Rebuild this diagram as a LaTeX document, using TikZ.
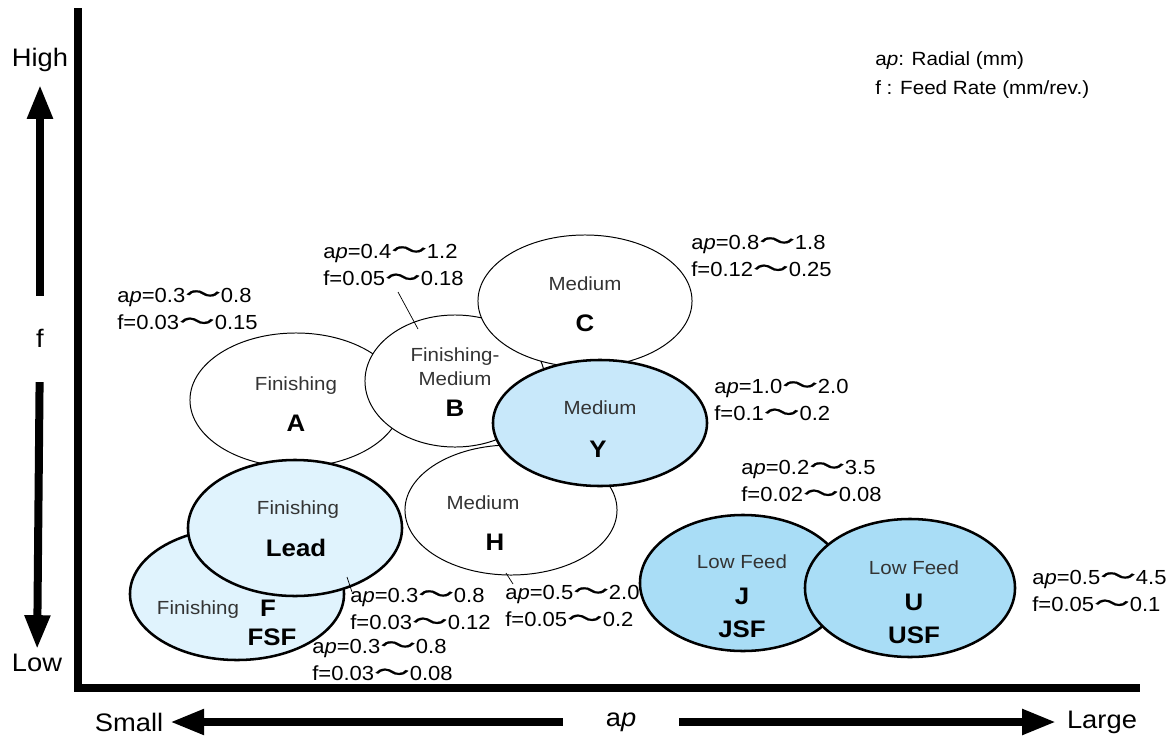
\documentclass[tikz,border=0pt]{standalone}
\usepackage{fontspec}
\setmainfont{Liberation Sans}[FakeStretch=1.08]
\newfontfamily\cjk{Noto Sans CJK JP}[FakeBold=0.6]
\usetikzlibrary{arrows.meta}
\usetikzlibrary{shapes.geometric}

\definecolor{leadblue}{HTML}{E0F3FD}
\definecolor{midblue}{HTML}{C8E8FA}
\definecolor{feedblue}{HTML}{A9DDF6}
\definecolor{kindgray}{HTML}{333333}

\newcommand{\radial}{a\textit{p}}
\newcommand{\wv}{{\cjk\scalebox{1.75}[1.15]{〜}}}

\begin{document}
\begin{tikzpicture}[x=0.025cm, y=-0.025cm, >={Triangle[length=0.85cm,width=0.6cm]},
    axisline/.style={line width=0.18cm},
    bigarrow/.style={line width=0.2cm,->},
    zone/.style={ellipse,draw,fill=white,line width=0.7pt,inner sep=0pt},
    keyzone/.style={zone,line width=1.8pt},
    kind/.style={text=kindgray,font=\fontsize{13.5}{16}\selectfont},
    tag/.style={font=\fontsize{17}{20}\selectfont\bfseries},
    cutbox/.style={align=left,anchor=west,inner sep=0pt,font=\fontsize{14.5}{19.5}\selectfont},
    word/.style={font=\fontsize{18}{20}\selectfont}]
\useasboundingbox (0,0) rectangle (1167,738);

% axes
\coordinate (top) at (78,8);
\coordinate (origin) at (78,688);
\coordinate (right) at (1140,688);
\draw[axisline] (top) -- (origin) -- (right);

% f axis
\node[word] (high) at (40,60) {High};
\node[word] (f) at (40,338) {f};
\node[word] (low) at (37,663) {Low};
\draw[bigarrow,shorten <=0.7cm,shorten >=0.2cm] (f) -- (high);
\draw[bigarrow,shorten <=0.75cm,shorten >=0cm] (f) -- (low);

% ap axis
\node[word] (small) at (129,722) {Small};
\node[word] (ap) at (621,722) {\radial};
\node[word] (large) at (1102,722) {Large};
\draw[bigarrow,shorten <=0.95cm,shorten >=0.05cm] (ap) -- (small);
\draw[bigarrow,shorten <=0.95cm,shorten >=0.15cm] (ap) -- (large);

% legend
\node[cutbox,font=\fontsize{13.6}{20.6}\selectfont] (legend) at (875,75)
  {\radial: Radial (mm)\\f : Feed Rate (mm/rev.)};

% grade zones, back to front
\node[zone,minimum width=5.3cm,minimum height=3.35cm] (A) at (296,400) {};
\node[zone,minimum width=5.3cm,minimum height=3.25cm] (H) at (511,510) {};
\node[zone,minimum width=4.5cm,minimum height=3.3cm] (B) at (455,381) {};
\node[zone,minimum width=5.35cm,minimum height=3.3cm] (C) at (585,301) {};
\node[keyzone,fill=midblue,minimum width=5.35cm,minimum height=3.15cm] (Y) at (600,423) {};
\node[keyzone,fill=leadblue,minimum width=5.35cm,minimum height=3.3cm] (F) at (237,594) {};
\node[keyzone,fill=leadblue,minimum width=5.35cm,minimum height=3.4cm] (Lead) at (295,528) {};
\node[keyzone,fill=feedblue,minimum width=5.15cm,minimum height=3.4cm] (J) at (743,583) {};
\node[keyzone,fill=feedblue,minimum width=5.25cm,minimum height=3.45cm] (U) at (910,588) {};

% zone texts
\node[kind] (A-kind) at (296,386) {Finishing};
\node[tag] (A-tag) at (296,423) {A};
\node[kind,align=center,font=\fontsize{13.5}{17}\selectfont] (B-kind) at (455,367) {Finishing-\\Medium};
\node[tag] (B-tag) at (455,408) {B};
\node[kind] (C-kind) at (585,284) {Medium};
\node[tag] (C-tag) at (585,323) {C};
\node[kind] (Y-kind) at (600,408) {Medium};
\node[tag] (Y-tag) at (598,449) {Y};
\node[kind] (H-kind) at (483,503) {Medium};
\node[tag] (H-tag) at (495,542) {H};
\node[kind] (Lead-kind) at (298,510) {Finishing};
\node[tag] (Lead-tag) at (296,548) {Lead};
\node[kind] (F-kind) at (198,610) {Finishing};
\node[tag] (F-tag) at (268,608) {F};
\node[tag] (FSF-tag) at (272,637) {FSF};
\node[kind] (J-kind) at (742,562) {Low Feed};
\node[tag,align=center,font=\fontsize{17}{24}\selectfont\bfseries] (J-tag) at (742,613) {J\\JSF};
\node[kind] (U-kind) at (914,568) {Low Feed};
\node[tag,align=center,font=\fontsize{17}{24}\selectfont\bfseries] (U-tag) at (914,619) {U\\USF};

% cutting ranges
\node[cutbox] (lbA) at (117,309) {\radial=0.3\wv0.8\\f=0.03\wv0.15};
\node[cutbox] (lbB) at (323,265) {\radial=0.4\wv1.2\\f=0.05\wv0.18};
\node[cutbox] (lbC) at (691,256) {\radial=0.8\wv1.8\\f=0.12\wv0.25};
\node[cutbox] (lbY) at (714,400) {\radial=1.0\wv2.0\\f=0.1\wv0.2};
\node[cutbox] (lbJ) at (741,481) {\radial=0.2\wv3.5\\f=0.02\wv0.08};
\node[cutbox] (lbU) at (1032,591) {\radial=0.5\wv4.5\\f=0.05\wv0.1};
\node[cutbox] (lbLead) at (350,609) {\radial=0.3\wv0.8\\f=0.03\wv0.12};
\node[cutbox] (lbH) at (505,606) {\radial=0.5\wv2.0\\f=0.05\wv0.2};
\node[cutbox] (lbF) at (312,660) {\radial=0.3\wv0.8\\f=0.03\wv0.08};

% leader lines
\coordinate (qB) at (398,292);
\coordinate (pB) at (418,329);
\coordinate (qLead) at (352,592);
\coordinate (pLead) at (347,577);
\coordinate (qH) at (513,584);
\coordinate (pH) at (506,573);
\draw[line width=0.5pt] (qB) -- (pB);
\draw[line width=0.5pt] (qLead) -- (pLead);
\draw[line width=0.5pt] (qH) -- (pH);
\end{tikzpicture}
\end{document}
